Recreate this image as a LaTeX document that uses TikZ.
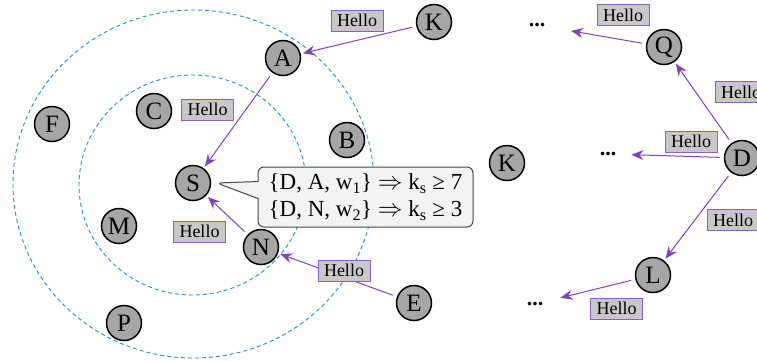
\documentclass[tikz,border=0pt]{standalone}
\usepackage{fontspec}
\setmainfont{Liberation Serif}
\usetikzlibrary{arrows.meta,shapes.callouts}
\definecolor{nodegray}{RGB}{166,166,166}
\definecolor{labelgray}{RGB}{200,200,200}
\definecolor{arrowpurple}{RGB}{128,66,186}
\definecolor{boxpurple}{RGB}{146,92,196}
\definecolor{ringblue}{RGB}{38,140,210}
\definecolor{calloutfill}{RGB}{243,243,243}
\definecolor{calloutdraw}{RGB}{70,70,70}
\tikzset{
  peer/.style={circle, draw=black, line width=1.5pt, fill=nodegray, minimum size=35pt, inner sep=0pt, outer sep=3pt, font=\fontsize{25}{27}\selectfont},
  hello/.style={rectangle, draw=boxpurple, line width=0.9pt, fill=labelgray, minimum width=52pt, minimum height=21pt, inner sep=0pt, font=\fontsize{18}{20}\selectfont},
  msg/.style={draw=arrowpurple, line width=1pt, -{Stealth[length=12pt, width=10pt, inset=4pt]}, shorten <=2pt},
  ring/.style={draw=ringblue, line width=0.9pt, dash pattern=on 4pt off 3pt},
  more/.style={inner sep=0pt, font=\fontsize{22}{24}\selectfont\bfseries},
}
\begin{document}
\begin{tikzpicture}[x=1pt, y=-1pt]
\useasboundingbox (0,0) rectangle (757,360);
% rings around S
\coordinate (sc) at (193,183);
\draw[ring] ([shift={(-0.5,2)}]sc) ellipse[x radius=113.5, y radius=110];
\draw[ring] ([shift={(0.5,1)}]sc) ellipse[x radius=180.5, y radius=174];
% peers
\node[peer] (S) at (sc) {S};
\node[peer] (K) at (434,22) {K};
\node[peer] (A) at (283,58) {A};
\node[peer] (C) at (154,111) {C};
\node[peer] (F) at (52,124) {F};
\node[peer] (B) at (347,140) {B};
\node[peer] (M) at (119,226) {M};
\node[peer] (N) at (261,247) {N};
\node[peer] (E) at (414,303) {E};
\node[peer] (P) at (124,323) {P};
\node[peer] (K2) at (507,163) {K};
\node[peer] (Q) at (664,47) {Q};
\node[peer] (D) at (742,158) {D};
\node[peer] (L) at (653,275) {L};
% dots
\node[more] (dq) at (537,25) {...};
\node[more] (dd) at (608,154) {...};
\node[more] (dl) at (535,304) {...};
% callout
\node[rectangle callout, callout absolute pointer={([xshift=3pt]S.east)}, callout pointer width=17pt, rounded corners=6pt,
      draw=calloutdraw, line width=1pt, fill=calloutfill, minimum width=215pt, minimum height=60pt,
      inner sep=0pt, align=left, font=\fontsize{23}{27}\selectfont] (co) at (365.5,197)
  {\{D, A, w\textsubscript{1}\} $\Rightarrow$ k\textsubscript{s} ≥ 7\\
   \{D, N, w\textsubscript{2}\} $\Rightarrow$ k\textsubscript{s} ≥ 3};
% messages
\draw[msg] (K) -- (A);
\draw[msg] (A) -- (S);
\draw[msg] (N) -- (S);
\draw[msg] (E) -- (N);
\draw[msg, shorten >=26pt] (Q) -- (dq);
\draw[msg] (D) -- (Q);
\draw[msg, shorten >=15pt] (D) -- (dd);
\draw[msg] (D) -- (L);
\draw[msg, shorten >=18pt] (L) -- (dl);
% labels
\node[hello] (h1) at (357,20.5) {Hello};
\node[hello] (h2) at (207.5,109.5) {Hello};
\node[hello] (h3) at (199.5,231.5) {Hello};
\node[hello] (h4) at (344,270.5) {Hello};
\node[hello] (h5) at (623,15) {Hello};
\node[hello] (h6) at (741,92) {Hello};
\node[hello] (h7) at (691,141.5) {Hello};
\node[hello] (h8) at (733,220) {Hello};
\node[hello] (h9) at (616.5,308.5) {Hello};
\end{tikzpicture}
\end{document}
